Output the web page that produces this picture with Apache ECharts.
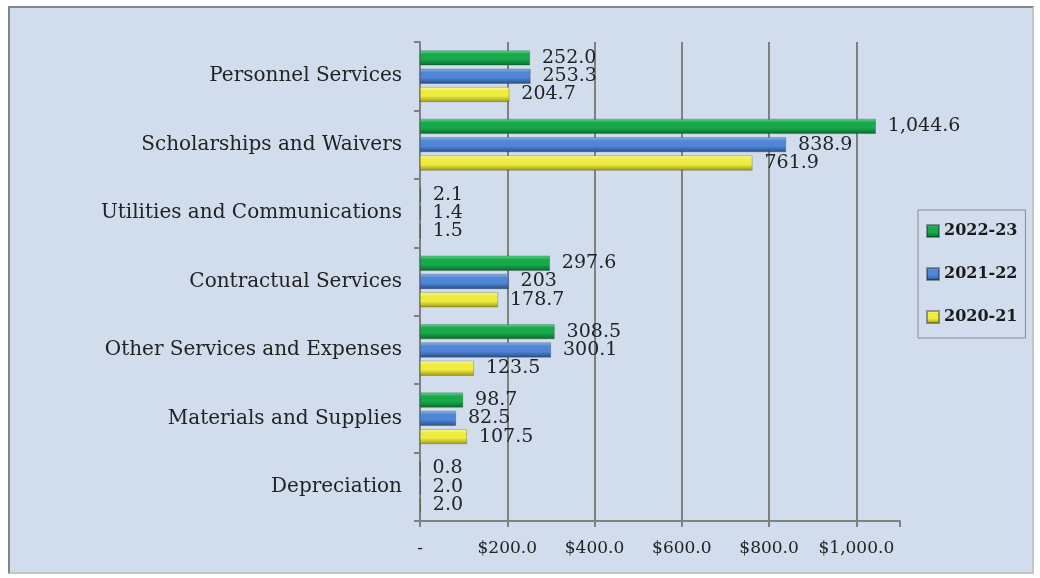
<!DOCTYPE html>
<html>
<head>
<meta charset="utf-8">
<script src="https://cdn.jsdelivr.net/npm/echarts@6/dist/echarts.min.js"></script>
<style>
  html, body { margin: 0; padding: 0; background: #ffffff; }
  #frame {
    position: absolute; left: 8px; top: 6px; width: 1022px; height: 564px;
    background: #d1dcec; border: 2px solid #858585; border-right-color: #c4c4c4; border-bottom-color: #c4c4c4;
  }
  #chart { width: 1022px; height: 564px; }
</style>
</head>
<body>
<div id="frame"><div id="chart"></div></div>
<script>
// categories, top to bottom
var categories = ['Personnel Services', 'Scholarships and Waivers', 'Utilities and Communications',
  'Contractual Services', 'Other Services and Expenses', 'Materials and Supplies', 'Depreciation'];

var seriesNames = ['2022-23', '2021-22', '2020-21'];

var values2223 = [252.0, 1044.6, 2.1, 297.6, 308.5, 98.7, 0.8];
var values2122 = [253.3, 838.9, 1.4, 203, 300.1, 82.5, 2.0];
var values2021 = [204.7, 761.9, 1.5, 178.7, 123.5, 107.5, 2.0];

var labels2223 = ['252.0', '1,044.6', '2.1', '297.6', '308.5', '98.7', '0.8'];
var labels2122 = ['253.3', '838.9', '1.4', '203', '300.1', '82.5', '2.0'];
var labels2021 = ['204.7', '761.9', '1.5', '178.7', '123.5', '107.5', '2.0'];

var xTicks = ['-', '$200.0', '$400.0', '$600.0', '$800.0', '$1,000.0'];

// bevel-ish gradients
function bevel(light, mid, dark) {
  return new echarts.graphic.LinearGradient(0, 0, 0, 1, [
    { offset: 0, color: light },
    { offset: 0.25, color: mid },
    { offset: 0.6, color: mid },
    { offset: 1, color: dark }
  ]);
}
var colors = [
  bevel('#5fd98a', '#17a94a', '#0b6a2c'),
  bevel('#8ab4ee', '#4f86d6', '#2a4f86'),
  bevel('#fbfa9a', '#eeec3e', '#9c9a1c')
];
var solid = ['#1aa84b', '#4a7fcf', '#e6e43a'];

var font = '"DejaVu Serif", "Liberation Serif", serif';

function makeSeries(i, vals, labs) {
  return {
    name: seriesNames[i],
    type: 'bar',
    data: vals,
    barWidth: 15,
    barGap: '22%',
    itemStyle: { color: colors[i], borderColor: 'rgba(0,0,0,0.35)', borderWidth: 0.6 },
    label: {
      show: true,
      position: 'right',
      distance: 12,
      fontFamily: font,
      fontSize: 19,
      color: '#222222',
      formatter: function (p) { return labs[p.dataIndex]; }
    }
  };
}

var chart = echarts.init(document.getElementById('chart'));
chart.setOption({
  animation: false,
  color: solid,
  grid: { left: 410, top: 34, width: 480, height: 479, containLabel: false },
  legend: {
    orient: 'vertical',
    left: 908, top: 202,
    padding: [13, 8, 13, 8],
    itemGap: 27,
    itemWidth: 12, itemHeight: 12,
    icon: 'rect',
    borderColor: '#8c8c8c', borderWidth: 1,
    textStyle: { fontFamily: font, fontSize: 16, fontWeight: 'bold', color: '#1a1a1a' },
    data: seriesNames
  },
  xAxis: {
    type: 'value',
    min: 0, max: 1100, interval: 200,
    axisLine: { show: true, lineStyle: { color: '#808080', width: 2 } },
    axisTick: { show: true, length: 6, lineStyle: { color: '#808080', width: 2 } },
    splitLine: { show: true, lineStyle: { color: ['#808080', '#808080', '#808080', '#808080', '#808080', '#808080', 'transparent'], width: 2 } },
    axisLabel: {
      fontFamily: font, fontSize: 17, color: '#222222', margin: 19,
      formatter: function (v) { var k = Math.round(v / 200); return (v % 200 === 0 && k < xTicks.length) ? xTicks[k] : ''; }
    }
  },
  yAxis: {
    type: 'category',
    inverse: true,
    data: categories,
    axisLine: { show: true, lineStyle: { color: '#808080', width: 2 } },
    axisTick: { show: true, length: 6, lineStyle: { color: '#808080', width: 2 } },
    axisLabel: { fontFamily: font, fontSize: 20, color: '#222222', margin: 18 }
  },
  series: [
    makeSeries(0, values2223, labels2223),
    makeSeries(1, values2122, labels2122),
    makeSeries(2, values2021, labels2021)
  ]
});
</script>
</body>
</html>
